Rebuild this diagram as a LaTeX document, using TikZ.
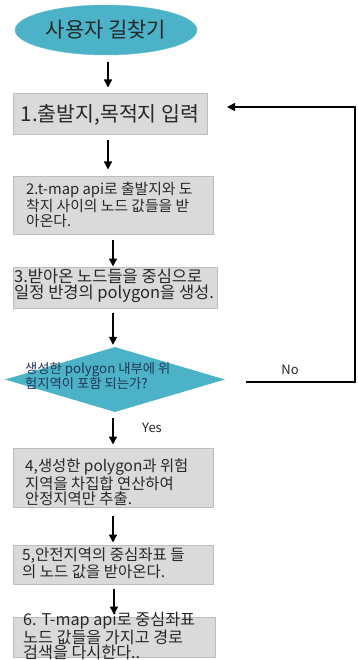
\documentclass[tikz,border=0pt]{standalone}
\usepackage{fontspec}
\setmainfont{Noto Sans CJK KR}
\usetikzlibrary{shapes.geometric,arrows.meta}
\definecolor{tealfill}{RGB}{75,178,200}
\definecolor{boxfill}{RGB}{218,218,218}
\definecolor{boxline}{RGB}{190,190,190}
\definecolor{txt}{RGB}{40,40,40}
\tikzset{
  procbox/.style={rectangle, draw=boxline, line width=1pt, fill=boxfill, inner sep=0pt, text=txt},
  flowarrow/.style={-{Triangle[length=8pt,width=8pt]}, line width=1.4pt, black},
  lbl/.style={font=\fontsize{13}{15}\selectfont, text=txt},
  boxtext/.style={align=left, text=txt, inner sep=0pt, anchor=west}
}
\begin{document}
\begin{tikzpicture}[x=1pt,y=-1pt]
\useasboundingbox (0,0) rectangle (358,660);
% start ellipse
\node[ellipse, fill=tealfill, draw=tealfill!80!white, minimum width=182pt, minimum height=50pt, inner sep=0pt, font=\fontsize{21}{22}\selectfont, text=txt] (start) at (106,30) {사용자 길찾기};
% box 1
\node[procbox, minimum width=194pt, minimum height=41pt, font=\fontsize{20.5}{22}\selectfont] (b1) at (110,114.5) {1.출발지,목적지 입력};
% box 2
\node[procbox, minimum width=200pt, minimum height=57pt] (b2) at (113,205.5) {};
\node[boxtext, font=\fontsize{14.8}{15}\selectfont] (t2) at (26,205) {2.t-map api로 출발지와 도\\착지 사이의 노드 값들을 받\\아온다.};
% box 3
\node[procbox, minimum width=204pt, minimum height=41pt] (b3) at (115,287.5) {};
\node[boxtext, font=\fontsize{16.5}{16.5}\selectfont] (t3) at (14,285.5) {3.받아온 노드들을 중심으로\\일정 반경의 polygon을 생성.};
% diamond
\node[diamond, fill=tealfill, minimum width=220pt, minimum height=65pt, inner sep=0pt] (d) at (115,379.5) {};
\node[boxtext, font=\fontsize{13.3}{12.5}\selectfont, text={rgb,255:red,35;green,55;blue,85}] (td) at (25,376) {생성한 polygon 내부에 위\\험지역이 포함 되는가?};
% box 4
\node[procbox, minimum width=200pt, minimum height=59pt] (b4) at (113,477.5) {};
\node[boxtext, font=\fontsize{15.4}{15.5}\selectfont] (t4) at (25,482.5) {4,생성한 polygon과 위험\\지역을 차집합 연산하여\\안정지역만 추출.};
% box 5
\node[procbox, minimum width=200pt, minimum height=39pt] (b5) at (113,564.5) {};
\node[boxtext, font=\fontsize{15.5}{13.8}\selectfont] (t5) at (22,563.5) {5,안전지역의 중심좌표 들\\의 노드 값을 받아온다.};
% box 6
\node[procbox, minimum width=202pt, minimum height=40pt] (b6) at (114,637) {};
\node[boxtext, font=\fontsize{16.2}{13.5}\selectfont] (t6) at (23,636) {6. T-map api로 중심좌표\\노드 값들을 가지고 경로\\검색을 다시한다..};
% arrows
\draw[flowarrow, shorten <=7pt, shorten >=6pt] (start.south -| 108,0) -- (b1.north -| 108,0);
\draw[flowarrow, shorten <=5pt, shorten >=7pt] (b1.south -| 108,0) -- (b2.north -| 108,0);
\draw[flowarrow, shorten <=5pt, shorten >=0pt] (b2.south -| 113,0) -- (b3.north -| 113,0);
\draw[flowarrow, shorten <=4pt, shorten >=2pt] (b3.south -| 113,0) -- (d.north -| 113,0);
\draw[flowarrow, shorten <=6pt, shorten >=3pt] (d.south -| 113,0) -- (b4.north -| 113,0);
\draw[flowarrow, shorten <=8pt, shorten >=2pt] (b4.south -| 113,0) -- (b5.north -| 113,0);
\draw[flowarrow, shorten <=4pt, shorten >=2pt] (b5.south -| 114,0) -- (b6.north -| 114,0);
% No loop
\coordinate (nostart) at (246,382);
\coordinate (ncorner1) at (355,382);
\coordinate (ncorner2) at (355,107);
\coordinate (nend) at (227,107);
\draw[line width=1.5pt, -{Triangle[length=8pt,width=8pt]}] (nostart) -- (ncorner1) -- (ncorner2) -- (nend);
\node[lbl] (no) at (290,370) {No};
\node[lbl] (yes) at (152,428) {Yes};
\end{tikzpicture}
\end{document}
